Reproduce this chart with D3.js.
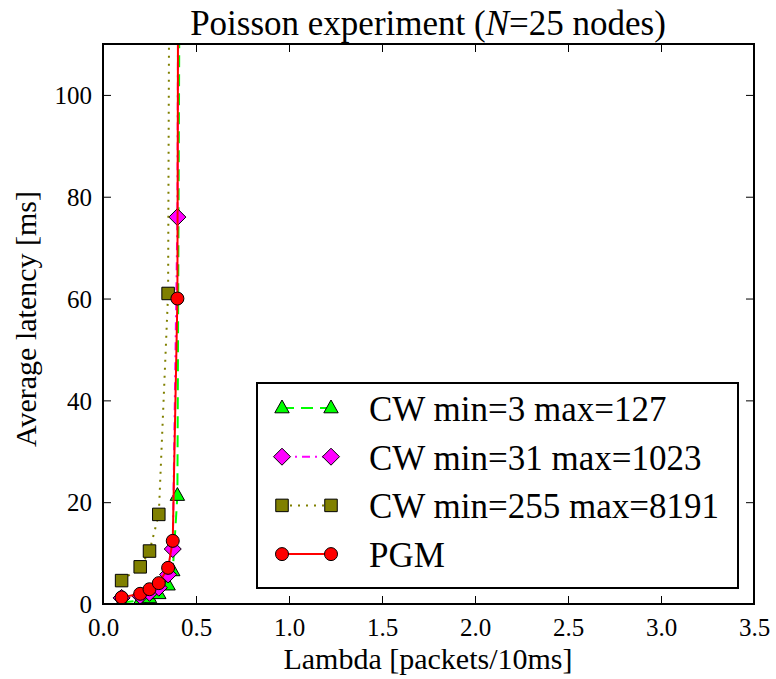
<!DOCTYPE html>
<html>
<head>
<meta charset="utf-8">
<script src="https://cdn.jsdelivr.net/npm/d3@7"></script>
<style>
  body { margin: 0; background: #fff; }
  svg text { font-family: "Liberation Serif", "Times New Roman", "DejaVu Serif", serif; fill: #000; }
</style>
</head>
<body>
<div id="chart"></div>
<script>
// lambda values (packets/10ms) and average latency per series [ms]
var lambdas = [0.1, 0.2, 0.25, 0.3, 0.35, 0.375, 0.4, 0.45];
var cw3 = [0.3, 0.7, 1.2, 2.0, 3.7, 6.5, 21.3, 470];
var cw31 = [1.2, 1.6, 2.2, 3.2, 5.8, 10.8, 76, 640];
var cw255 = [4.6, 7.3, 10.4, 17.6, 61, 320, 2000, 5000];
var pgm = [1.3, 2.0, 2.9, 4.1, 7.1, 12.4, 60, 900];

var seriesNames = ["CW min=3 max=127", "CW min=31 max=1023", "CW min=255 max=8191", "PGM"];
var xTicks = [0, 0.5, 1, 1.5, 2, 2.5, 3, 3.5];
var yTicks = [0, 20, 40, 60, 80, 100];

var fontStack = '"Liberation Serif", "Times New Roman", "DejaVu Serif", serif';

var margin = {top: 44, right: 22, bottom: 75, left: 103},
    width = 754 - margin.left,
    height = 604 - margin.top;

var svg = d3.select("#chart")
  .append("svg")
    .attr("width", 776)
    .attr("height", 679)
    .attr("font-family", fontStack);

var g = svg.append("g")
    .attr("transform", "translate(" + margin.left + "," + margin.top + ")");

var x = d3.scaleLinear().domain([0, 3.5]).range([0, width]);
var y = d3.scaleLinear().domain([0, 110]).range([height, 0]);

g.append("clipPath").attr("id", "clip")
  .append("rect").attr("width", width).attr("height", height);

// axes, ticks pointing inward
var ax = g.append("g")
    .attr("transform", "translate(0," + height + ")")
    .call(d3.axisBottom(x).tickValues(xTicks).tickFormat(d3.format(".1f")).tickSize(-8).tickPadding(10));
var axTop = g.append("g")
    .call(d3.axisTop(x).tickValues(xTicks).tickFormat("").tickSize(-8));
var ay = g.append("g")
    .call(d3.axisLeft(y).tickValues(yTicks).tickSize(-8).tickPadding(11));
var ayRight = g.append("g")
    .attr("transform", "translate(" + width + ",0)")
    .call(d3.axisRight(y).tickValues(yTicks).tickFormat("").tickSize(-8));

[ax, axTop, ay, ayRight].forEach(function(a) {
  a.attr("font-family", fontStack);
  a.select(".domain").remove();
  a.selectAll(".tick line").attr("stroke", "#000").attr("stroke-width", 1);
  a.selectAll(".tick text").style("font-family", fontStack).style("font-size", "25px").attr("fill", "#000");
});
ax.selectAll(".tick text").attr("dy", "0.86em");
ay.selectAll(".tick text").attr("dy", "0.35em");

var series = [
  {name: seriesNames[0], values: cw3, color: "#00ff00", dash: "12,7", marker: "triangle", size: 8},
  {name: seriesNames[1], values: cw31, color: "#ff00ff", dash: "8,5,2,5", marker: "diamond", size: 8.5},
  {name: seriesNames[2], values: cw255, color: "#808000", dash: "2,6", marker: "square", size: 12.5},
  {name: seriesNames[3], values: pgm, color: "#ff0000", dash: null, marker: "circle", size: 6.5}
];

function markerPath(type, s) {
  if (type == "triangle") return "M0," + (-s) + "L" + (s * 0.9) + "," + (s * 0.6) + "L" + (-s * 0.9) + "," + (s * 0.6) + "Z";
  if (type == "diamond") return "M0," + (-s) + "L" + s + ",0L0," + s + "L" + (-s) + ",0Z";
  if (type == "square") return "M" + (-s / 2) + "," + (-s / 2) + "h" + s + "v" + s + "h" + (-s) + "Z";
  return null;
}

function drawMarker(sel, s, px, py) {
  if (s.marker == "circle") {
    sel.append("circle").attr("cx", px).attr("cy", py).attr("r", s.size)
      .attr("fill", s.color).attr("stroke", "#000").attr("stroke-width", 1);
  } else {
    sel.append("path").attr("d", markerPath(s.marker, s.size))
      .attr("transform", "translate(" + px + "," + py + ")")
      .attr("fill", s.color).attr("stroke", "#000").attr("stroke-width", 1);
  }
}

var plotArea = g.append("g").attr("clip-path", "url(#clip)");

series.forEach(function(s) {
  var pts = lambdas.map(function(l, i) { return [l, s.values[i]]; });
  plotArea.append("path")
    .datum(pts)
    .attr("fill", "none")
    .attr("stroke", s.color)
    .attr("stroke-width", 2)
    .attr("stroke-dasharray", s.dash)
    .attr("d", d3.line()
      .x(function(d) { return x(d[0]); })
      .y(function(d) { return y(d[1]); })
    );
  pts.forEach(function(d) {
    if (d[1] <= 115) drawMarker(plotArea, s, x(d[0]), y(d[1]));
  });
});

// frame
g.append("rect")
  .attr("width", width).attr("height", height)
  .attr("fill", "none").attr("stroke", "#000").attr("stroke-width", 2);

// legend
var leg = svg.append("g");
leg.append("rect")
  .attr("x", 257).attr("y", 383).attr("width", 481).attr("height", 205)
  .attr("fill", "#fff").attr("stroke", "#000").attr("stroke-width", 2);
series.forEach(function(s, i) {
  var cy = 408 + i * 48.7;
  leg.append("line")
    .attr("x1", 282).attr("x2", 331).attr("y1", cy).attr("y2", cy)
    .attr("stroke", s.color).attr("stroke-width", 2)
    .attr("stroke-dasharray", s.dash);
  drawMarker(leg, s, 282, cy);
  drawMarker(leg, s, 331, cy);
  leg.append("text")
    .attr("x", 369).attr("y", cy + 13)
    .style("font-size", "35px")
    .text(s.name);
});

// title and axis labels
var title = svg.append("text")
  .attr("x", 428).attr("y", 35)
  .attr("text-anchor", "middle")
  .style("font-size", "35px");
title.append("tspan").text("Poisson experiment (");
title.append("tspan").style("font-style", "italic").text("N");
title.append("tspan").text("=25 nodes)");

svg.append("text")
  .attr("x", 428).attr("y", 669)
  .attr("text-anchor", "middle")
  .style("font-size", "30px")
  .text("Lambda [packets/10ms]");

svg.append("text")
  .attr("transform", "translate(36," + 319 + ") rotate(-90)")
  .attr("text-anchor", "middle")
  .style("font-size", "30px")
  .text("Average latency [ms]");
</script>
</body>
</html>
